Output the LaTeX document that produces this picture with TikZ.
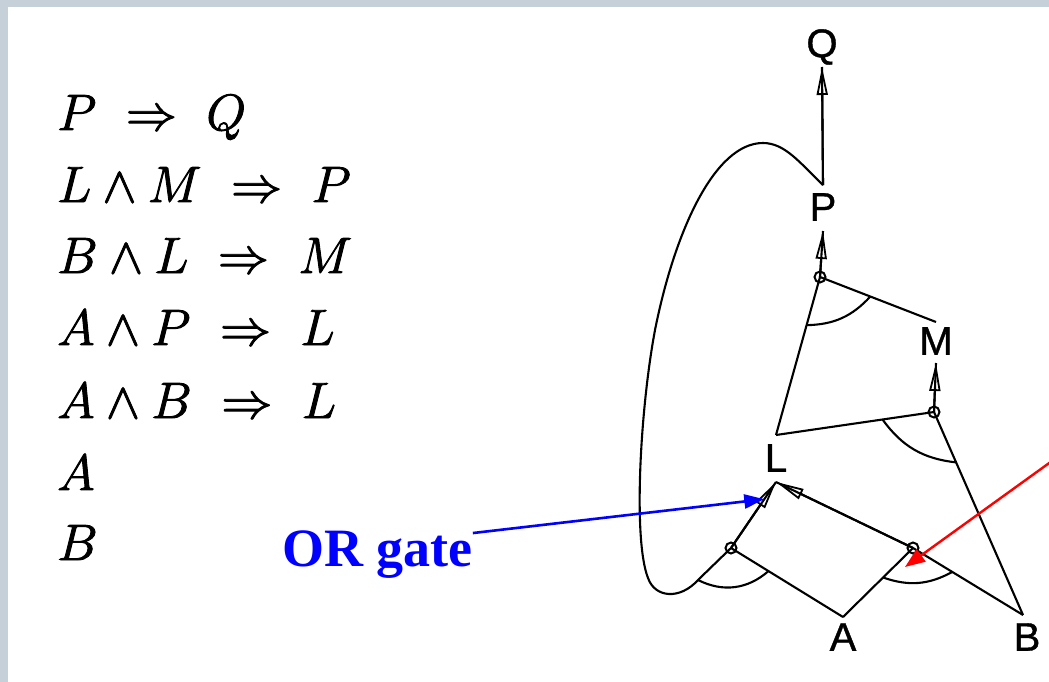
\RequirePackage{fix-cm}
\documentclass[tikz,border=0pt]{standalone}
\usepackage{fontspec}
\newfontfamily\labfont{Liberation Sans}
\newfontfamily\orfont{Liberation Serif}
\usetikzlibrary{arrows.meta,calc}
\definecolor{framegray}{RGB}{197,208,216}
\newcommand{\heavytext}[2][0.9]{\special{pdf:literal direct 2 Tr #1 w}#2\special{pdf:literal direct 0 Tr}}
\begin{document}
\begin{tikzpicture}[x=1pt,y=-1pt,
  lab/.style={font=\labfont\fontsize{40}{42}\selectfont, inner sep=0pt},
  gate/.style={circle,draw,line width=2pt,minimum size=11pt,inner sep=0pt},
  wire/.style={line width=2.1pt},
  harrow/.style={wire,-{Triangle[open,length=28pt,width=11pt,line width=1.8pt]},postaction={draw,arrows=-}},
  fml/.style={anchor=base west,inner sep=0pt,font=\fontsize{51}{60}\selectfont},
  ]
\useasboundingbox (0,0) rectangle (1049,682);
\clip (0,0) rectangle (1049,682);
\fill[framegray] (0,0) rectangle (1049,682);
\fill[white] (8,7) rectangle (1049,682);

% formulas
\node[fml] (f1) at (57,130) {\heavytext{$P\ \Rightarrow\ Q$}};
\node[fml] (f2) at (57,202) {\heavytext{$L\wedge M\ \Rightarrow\ P$}};
\node[fml] (f3) at (57,273) {\heavytext{$B\wedge L\ \Rightarrow\ M$}};
\node[fml] (f4) at (57,345) {\heavytext{$A\wedge P\ \Rightarrow\ L$}};
\node[fml] (f5) at (57,418) {\heavytext{$A\wedge B\ \Rightarrow\ L$}};
\node[fml] (f6) at (57,490) {\heavytext{$A$}};
\node[fml] (f7) at (57,560) {\heavytext{$B$}};

% labels
\node[lab] (Q) at (822,47) {\heavytext[0.4]{Q}};
\node[lab] (P) at (823,207) {\heavytext[0.4]{P}};
\node[lab] (M) at (936,341) {\heavytext[0.4]{M}};
\node[lab] (L) at (776,458) {\heavytext[0.4]{L}};
\node[lab] (A) at (843,637) {\heavytext[0.4]{A}};
\node[lab] (B) at (1027,637) {\heavytext[0.4]{B}};

% gates
\node[gate] (Pg) at (820,277) {};
\node[gate] (Mg) at (934,412) {};
\node[gate] (Lg1) at (731,548) {};
\node[gate] (Lg2) at (913,548) {};

% attachment points
\coordinate (J) at ([yshift=8pt]P.north);
\coordinate (Qin) at ([yshift=-20pt]Q.center);
\coordinate (Pin) at ([yshift=-24pt]P.center);
\coordinate (Min) at ([yshift=-22pt]M.center);
\coordinate (Lin) at ([yshift=-24pt]L.center);
\coordinate (Lout) at ([yshift=23pt]L.center);
\coordinate (Mtop) at ([yshift=19pt]M.center);
\coordinate (Atop) at ([yshift=20pt]A.center);
\coordinate (Btop) at ([xshift=-4pt,yshift=22pt]B.center);
\coordinate (Pfb) at (698,580);

% arrows into nodes
\draw[harrow] (J) -- (Qin);
\draw[harrow] (Pg.center) -- (Pin);
\draw[harrow] (Mg.center) -- (Min);
\draw[harrow] (Lg1.center) -- (Lin);
\draw[harrow] (Lg2.center) -- (Lin);

% inputs
\draw[wire] (Lout) -- (Pg.center);
\draw[wire] (Mtop) -- (Pg.center);
\draw[wire] (Lout) -- (Mg.center);
\draw[wire] (Btop) -- (Mg.center);
\draw[wire] (Atop) -- (Lg1.center);
\draw[wire] (Atop) -- (Lg2.center);
\draw[wire] (Btop) -- (Lg2.center);

% feedback loop from P
\draw[wire] (J) .. controls (800,163) and (785,143) .. (763,143)
  .. controls (715,143) and (675,230) .. (655,330)
  .. controls (640,410) and (633,540) .. (648,578)
  .. controls (655,598) and (680,600) .. (Pfb) -- (Lg1.center);

% AND arcs
\draw[wire] ($(Pg)!50pt!(Lout)$) to[bend right=23] ($(Pg)!54pt!(Mtop)$);
\draw[wire] ($(Mg)!52pt!(Lout)$) to[bend right=24] ($(Mg)!55pt!(Btop)$);
\draw[wire] (Pfb) to[bend right=34] ($(Lg1)!44pt!(Atop)$);
\draw[wire] ($(Lg2)!42pt!(Atop)$) to[bend right=24] ($(Lg2)!46pt!(Btop)$);

% annotations
\node[font=\orfont\bfseries\fontsize{54}{60}\selectfont, text=blue, anchor=base west, inner sep=0pt] (OR) at (282,566) {OR gate};
\coordinate (ORtip) at ($(Lg1)!0.74!(Lin)$);
\draw[blue, line width=2.6pt, -{Triangle[length=20pt,width=14pt]}] ([yshift=-3pt]OR.north east) -- (ORtip);
\coordinate (redstart) at (1070,448);
\coordinate (redtip) at ([xshift=-8pt,yshift=-19pt]Lg2.center);
\draw[red, line width=2.4pt, -{Triangle[length=20pt,width=15pt]}] (redstart) -- (redtip);
\end{tikzpicture}
\end{document}
